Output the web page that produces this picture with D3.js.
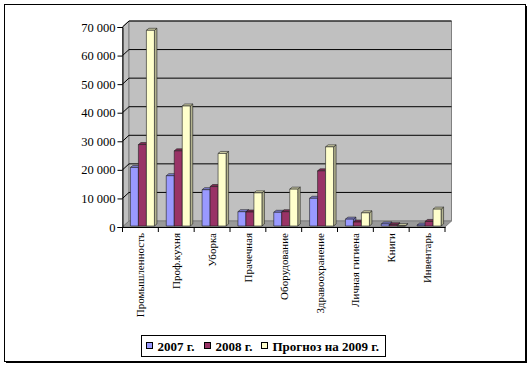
<!DOCTYPE html>
<html><head><meta charset="utf-8">
<script src="https://cdn.jsdelivr.net/npm/d3@7"></script>
<style>body{margin:0;background:#fff}svg{display:block}text{font-family:"Liberation Serif","Times New Roman",Times,serif}</style>
</head><body><svg id="c" width="532" height="367"></svg>
<script>
const categories = ["Промышленность","Проф.кухня","Уборка","Прачечная","Оборудование","Здравоохранение","Личная гигиена","Книги","Инвентарь"];
const seriesNames = ["2007 г.","2008 г.","Прогноз на 2009 г."];
const v2007 = [20500,17600,12700,5000,4800,9700,2400,700,300];
const v2008 = [28500,26300,13800,4900,5000,19300,1400,400,1600];
const v2009 = [68500,42000,25400,11600,12900,27700,4600,100,5900];
const yTicks = [0,10000,20000,30000,40000,50000,60000,70000];
const seriesValues = [v2007,v2008,v2009];
const fronts = ["#9999ff","#993366","#ffffcc"];
const sides = ["#6b6bb3","#6b2447","#b3b38f"];
const tops = ["#8080d6","#802b55","#d6d6ab"];
const FONT = '"Liberation Serif","Times New Roman",Times,serif';

const svg = d3.select("#c");
svg.append("rect").attr("width",532).attr("height",367).attr("fill","#fff");
// outer frame with shadow
svg.append("rect").attr("x",6).attr("y",6).attr("width",521).attr("height",357).attr("fill","#000");
svg.append("rect").attr("x",4.5).attr("y",4.5).attr("width",521).attr("height",357).attr("fill","#fff").attr("stroke","#000").attr("stroke-width",1);

const x0 = 122.5, x1 = 445, yb = 227, yt = 27;
const dx = 6.5, dy = -6;
const x = d3.scaleBand().domain(categories).range([x0,x1]).paddingInner(0).paddingOuter(0);
const y = d3.scaleLinear().domain([0,70000]).range([yb,yt]);
const xs = d3.scaleBand().domain(seriesNames).range([0,24]).padding(0);

// left wall
svg.append("polygon").attr("points",[[x0,yb],[x0,yt],[x0+dx,yt+dy],[x0+dx,yb+dy]].join(" "))
  .attr("fill","#c0c0c0").attr("stroke","#808080");
// back wall
svg.append("polygon").attr("points",[[x0+dx,yt+dy],[x1+dx,yt+dy],[x1+dx,yb+dy],[x0+dx,yb+dy]].join(" "))
  .attr("fill","#c0c0c0").attr("stroke","#808080");
// floor
svg.append("polygon").attr("points",[[x0,yb],[x1,yb],[x1+dx,yb+dy],[x0+dx,yb+dy]].join(" "))
  .attr("fill","#999999").attr("stroke","#808080");
// gridlines
yTicks.filter(t=>t>0).forEach(t=>{
  const yy = y(t);
  svg.append("line").attr("x1",x0+dx).attr("x2",x1+dx).attr("y1",yy+dy).attr("y2",yy+dy).attr("stroke","#000").attr("stroke-width",1);
  svg.append("line").attr("x1",x0).attr("x2",x0+dx).attr("y1",yy).attr("y2",yy+dy).attr("stroke","#000").attr("stroke-width",1);
});

// bars
const bw = 8, bd = 2.5, bh = 2, offX = 2, offY = -1;
categories.forEach((c,i)=>{
  seriesValues.forEach((vals,s)=>{
    const v = vals[i];
    const L = x(c) + (x.bandwidth()-24)/2 + xs(seriesNames[s]) + offX;
    const R = L + bw;
    const T = y(v) + offY;
    const B = yb + offY;
    const g = svg.append("g").attr("stroke","#202020").attr("stroke-width",0.6).attr("stroke-linejoin","round");
    g.append("polygon").attr("points",[[R,T],[R+bd,T-bh],[R+bd,B-bh],[R,B]].join(" ")).attr("fill",sides[s]);
    g.append("polygon").attr("points",[[L,T],[L+bd,T-bh],[R+bd,T-bh],[R,T]].join(" ")).attr("fill",tops[s]);
    g.append("rect").attr("x",L).attr("y",T).attr("width",bw).attr("height",Math.max(0,B-T)).attr("fill",fronts[s]);
  });
});

// y axis
const ya = d3.axisLeft(y).tickValues(yTicks).tickSize(5).tickPadding(2)
  .tickFormat(d=>d3.format(",")(d).replace(/,/g," "));
const yg = svg.append("g").attr("transform",`translate(${x0},0)`).call(ya);
yg.attr("font-family",null);
yg.select(".domain").attr("stroke","#000");
yg.selectAll("line").attr("stroke","#000");
yg.selectAll("text").style("font-family",FONT).style("font-size","12.5px").attr("fill","#000");

// x axis
const xa = d3.axisBottom(x).tickSize(0).tickFormat("");
const xg = svg.append("g").attr("transform",`translate(0,${yb})`).call(xa);
xg.select(".domain").attr("stroke","#000");
const bounds = categories.map(c=>x(c)).concat([x1]);
bounds.forEach(b=>xg.append("line").attr("x1",b).attr("x2",b).attr("y1",0).attr("y2",5).attr("stroke","#000"));
categories.forEach(c=>{
  const cx = x(c)+x.bandwidth()/2;
  svg.append("text").attr("transform",`translate(${cx+4},${233}) rotate(-90)`)
    .attr("text-anchor","end").style("font-family",FONT)
    .style("font-size","11px").attr("fill","#000").text(c);
});

// legend
const lg = svg.append("g");
lg.append("rect").attr("x",141.5).attr("y",335.5).attr("width",244).attr("height",21).attr("fill","#fff").attr("stroke","#000");
const lx = [146.5,204.5,261.5];
seriesNames.forEach((n,s)=>{
  lg.append("rect").attr("x",lx[s]).attr("y",342.5).attr("width",6).attr("height",6).attr("fill",fronts[s]).attr("stroke","#000");
  lg.append("text").attr("x",lx[s]+11).attr("y",350.5).style("font-family",FONT)
    .style("font-size","13px").style("font-weight","bold").attr("fill","#000").text(n);
});
</script></body></html>
